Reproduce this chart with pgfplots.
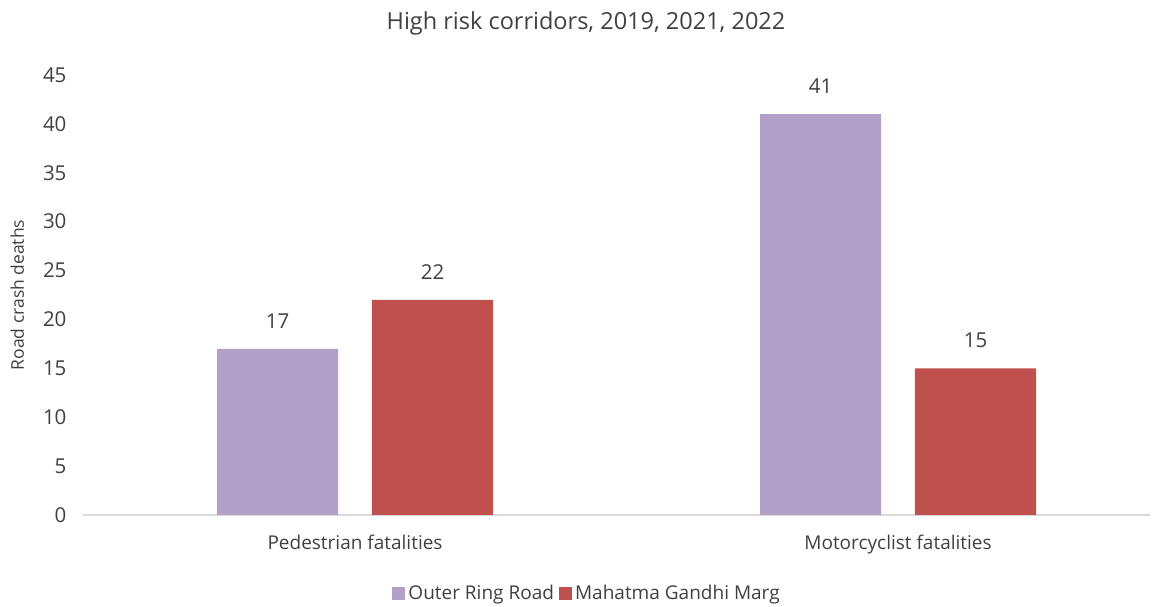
\documentclass[border=0pt]{standalone}
\usepackage{pgfplots}
\pgfplotsset{compat=1.18}
\usepackage{fontspec}
\setmainfont{Open Sans}
\definecolor{txt}{HTML}{404040}
\definecolor{purp}{HTML}{B1A0C7}
\definecolor{redb}{HTML}{C0504D}
\definecolor{axl}{HTML}{D9D9D9}
\begin{document}
\begin{tikzpicture}[x=1pt,y=1pt]
\path[use as bounding box] (0,0) rectangle (1165,607);
\begin{axis}[
  at={(83pt,92pt)}, anchor=south west,
  width=1067pt, height=440pt, scale only axis,
  xmin=-0.501, xmax=1.464, ymin=0, ymax=45,
  xtick={0,1}, xticklabels={Pedestrian fatalities,Motorcyclist fatalities},
  axis x line*=bottom, axis y line=none,
  x axis line style={axl, line width=1.5pt, -},
  xtick style={draw=none},
  ytick style={draw=none},
  /pgf/number format/assume math mode=true,
  x tick label style={font=\fontsize{19}{22}\selectfont, text=txt, yshift=-12pt},
  ybar=0pt, bar width=0.223,
  nodes near coords,
  every node near coord/.append style={font=\fontsize{20.5}{24}\selectfont, text=txt, yshift=17pt},
  clip=false,
]
\addplot[fill=purp, draw=none, bar shift=-0.1427] coordinates {(0,17) (1,41)};
\addplot[fill=redb, draw=none, bar shift=0.1427] coordinates {(0,22) (1,15)};
\end{axis}
\begin{axis}[
  at={(83pt,92pt)}, anchor=south west,
  width=1067pt, height=440pt, scale only axis,
  xmin=-0.5, xmax=1.5, ymin=0, ymax=45,
  ytick={0,5,...,45}, xtick=\empty,
  hide x axis, axis y line*=left, y axis line style={draw=none},
  ytick style={draw=none},
  /pgf/number format/assume math mode=true,
  yticklabel style={font=\fontsize{20.5}{24}\selectfont, text=txt, xshift=-13pt},
  ylabel={Road crash deaths},
  ylabel style={font=\fontsize{17.5}{21}\selectfont, text=txt, yshift=12pt},
]
\end{axis}
\node[font=\fontsize{23.5}{28}\selectfont, text=txt] at (586,584) {High risk corridors, 2019, 2021, 2022};
\node[font=\fontsize{19}{22}\selectfont, text=txt, anchor=center] at (586,12) {%
  \textcolor{purp}{\rule{13pt}{13pt}}\,Outer Ring Road\ \textcolor{redb}{\rule{13pt}{13pt}}\,Mahatma Gandhi Marg};
\end{tikzpicture}
\end{document}
